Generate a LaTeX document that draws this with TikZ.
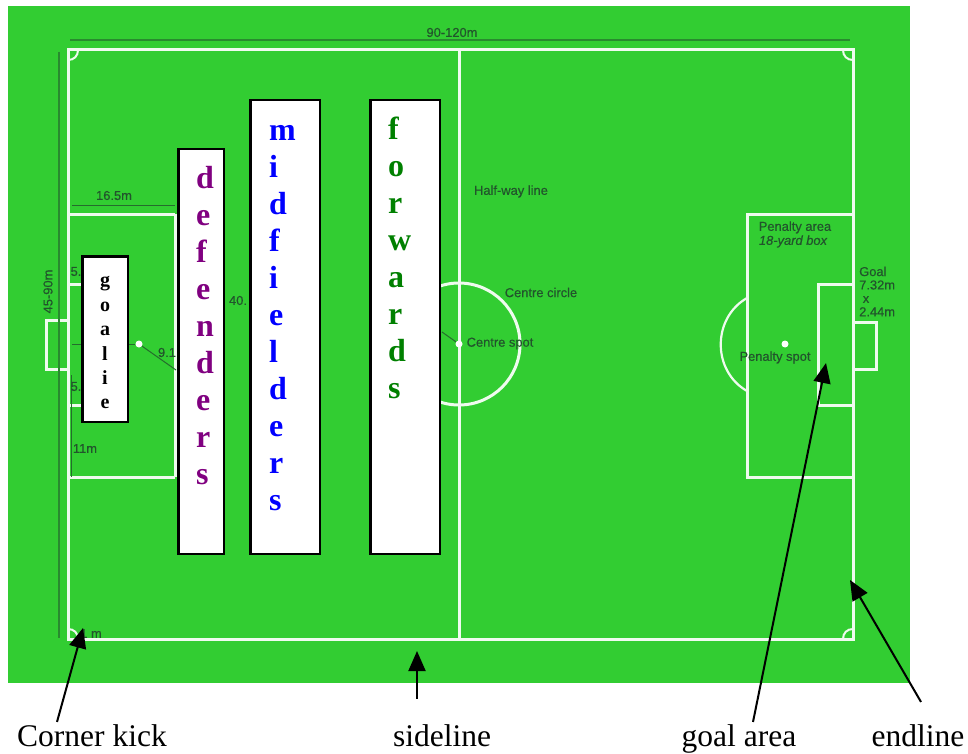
\documentclass[tikz,border=0pt]{standalone}
\usepackage{fontspec}
\setmainfont{Liberation Serif}
\newfontfamily\labelfont[FakeBold=0.4]{Liberation Sans}
\usetikzlibrary{arrows.meta}
\definecolor{pitch}{RGB}{50,205,50}
\definecolor{marking}{RGB}{34,84,44}
\definecolor{defenderpurple}{RGB}{128,0,128}
\begin{document}
\begin{tikzpicture}[x=1pt,y=-1pt,
    fieldline/.style={line width=3pt,draw=white!92!pitch},
    dimline/.style={line width=1.5pt,draw=marking!55!pitch},
    thinline/.style={line width=1pt,draw=marking!80!pitch},
    fieldlabel/.style={inner sep=0pt,yshift=-1.5pt,text=marking,font=\labelfont\fontsize{12.9}{13.4}\selectfont},
    spot/.style={circle,fill=white,inner sep=0pt,minimum size=7pt},
    playerbox/.style={draw=black,fill=white,line width=2.5pt,inner sep=0pt,anchor=north west},
    letters/.style={inner sep=0pt,anchor=north west,align=left,font=\bfseries\fontsize{32}{37}\selectfont},
    caption/.style={inner sep=0pt,anchor=base,font=\fontsize{31.5}{34}\selectfont},
    pointer/.style={line width=2pt,-{Triangle[length=20pt,width=17pt]}}]
    \useasboundingbox (0,0) rectangle (968,754);
    \fill[pitch] (8,6) rectangle (910,683);

    \coordinate (topdimL) at (70,40);
    \coordinate (topdimR) at (850,40);
    \coordinate (sidedimT) at (59,52);
    \coordinate (sidedimB) at (59,638);
    \coordinate (boxdimL) at (72,205);
    \coordinate (boxdimR) at (175,205);
    \coordinate (areadimT) at (71,375);
    \coordinate (areadimB) at (71,477);
    \coordinate (goaldimL) at (72,344);
    \coordinate (goaldimR) at (135,344);
    \coordinate (radiusend) at (176,370);
    \coordinate (circleend) at (442,332);

    \draw[fieldline] (68,50) rectangle (853,639);
    \draw[fieldline] (459,50) -- (459,639);
    \draw[fieldline] (459,344) circle (61);
    \draw[fieldline] (175,214) -- (68,214);
    \draw[fieldline] (175,214) -- (175,477);
    \draw[fieldline] (175,477) -- (68,477);
    \draw[fieldline] (68,284) -- (103,284) -- (103,405) -- (68,405);
    \draw[fieldline] (68,320) -- (46,320) -- (46,369) -- (68,369);
    \draw[fieldline] (853,214) -- (747,214) -- (747,477) -- (853,477);
    \draw[fieldline] (853,284) -- (818,284) -- (818,405) -- (853,405);
    \draw[fieldline] (853,322) -- (876,322) -- (876,369) -- (853,369);
    \draw[fieldline,line width=2.2pt] (747,298) .. controls (712,318) and (712,371) .. (747,391);
    \draw[fieldline,line width=2pt] (68,60) .. controls (74,60) and (78,56) .. (78,50);
    \draw[fieldline,line width=2pt] (843,50) .. controls (843,56) and (847,60) .. (853,60);
    \draw[fieldline,line width=2pt] (68,629) .. controls (74,629) and (78,633) .. (78,639);
    \draw[fieldline,line width=2pt] (843,639) .. controls (843,633) and (847,629) .. (853,629);

    \node[spot] (leftspot) at (139,344) {};
    \node[spot] (centrespot) at (459,344) {};
    \node[spot] (rightspot) at (785,344) {};

    \draw[dimline] (topdimL) -- (topdimR);
    \draw[dimline] (sidedimT) -- (sidedimB);
    \draw[thinline] (boxdimL) -- (boxdimR);
    \draw[thinline] (areadimT) -- (areadimB);
    \draw[thinline] (goaldimL) -- (goaldimR);
    \draw[thinline] (leftspot) -- (radiusend);
    \draw[thinline] (centrespot) -- (circleend);

    \node[fieldlabel] (length) at (452,31) {90-120m};
    \node[fieldlabel,rotate=90] (width) at (48,290) {45-90m};
    \node[fieldlabel] (boxdepth) at (114,194) {16.5m};
    \node[fieldlabel] (topfive) at (76,270) {5.};
    \node[fieldlabel] (lowfive) at (76,385) {5.};
    \node[fieldlabel] (spotdist) at (85,447) {11m};
    \node[fieldlabel] (radius) at (167,351) {9.1};
    \node[fieldlabel] (arealength) at (238,299) {40.};
    \node[fieldlabel] (cornerdist) at (91,632) {1 m};
    \node[fieldlabel] (halfway) at (511,190) {Half-way line};
    \node[fieldlabel] (centrecircle) at (541,291) {Centre circle};
    \node[fieldlabel] (centrename) at (500,342) {Centre spot};
    \node[fieldlabel] (penaltyarea) at (795,226) {Penalty area};
    \node[fieldlabel,font=\labelfont\itshape\fontsize{12.9}{13.4}\selectfont] (yardbox) at (793,240) {18-yard box};
    \node[fieldlabel] (penaltyname) at (775,356) {Penalty spot};
    \node[fieldlabel,anchor=north west,align=left] (goalsize) at (859,265) {Goal\\7.32m\\\ x\\2.44m};

    \node[playerbox,minimum width=45.5pt,minimum height=165.5pt] (goaliebox) at (81,255) {};
    \node[playerbox,minimum width=45.5pt,minimum height=404.5pt] (defendersbox) at (177,148) {};
    \node[playerbox,minimum width=69.5pt,minimum height=453.5pt] (midfieldersbox) at (249,99) {};
    \node[playerbox,minimum width=69.5pt,minimum height=453.5pt] (forwardsbox) at (369,99) {};

    \node[inner sep=0pt,anchor=north,align=center,font=\bfseries\fontsize{20}{24.4}\selectfont] (goalie) at (105,276.5) {g\\o\\a\\l\\i\\e};
    \node[letters,text=defenderpurple] (defenders) at (196,166) {d\\e\\f\\e\\n\\d\\e\\r\\s};
    \node[letters,text=blue] (midfielders) at (269,125) {m\\i\\d\\f\\i\\e\\l\\d\\e\\r\\s};
    \node[letters,text=green!50!black] (forwards) at (388,117) {f\\o\\r\\w\\a\\r\\d\\s};

    \node[caption] (cornerkick) at (92,746) {Corner kick};
    \node[caption] (sideline) at (442,746) {sideline};
    \node[caption] (goalarea) at (739,746) {goal area};
    \node[caption] (endline) at (918,746) {endline};

    \coordinate (cornertip) at (83,628);
    \coordinate (sidetip) at (417,651);
    \coordinate (goaltip) at (826,363);
    \coordinate (endtip) at (850,580);

    \draw[pointer] ([shift={(-35,-2)}]cornerkick.north) -- (cornertip);
    \draw[pointer] ([shift={(-25,-25)}]sideline.north) -- (sidetip);
    \draw[pointer] ([shift={(14,-2)}]goalarea.north) -- (goaltip);
    \draw[pointer] ([shift={(3,-22)}]endline.north) -- (endtip);
\end{tikzpicture}
\end{document}
